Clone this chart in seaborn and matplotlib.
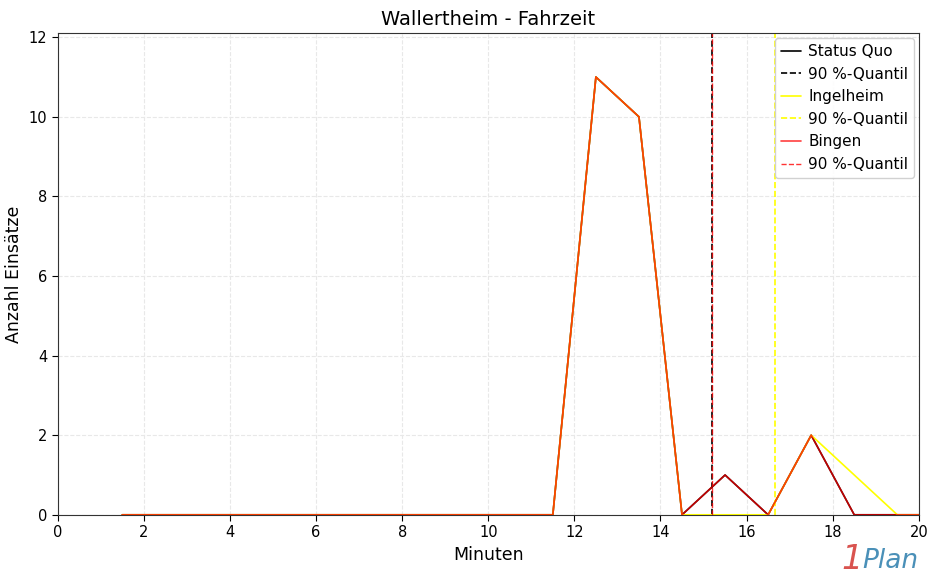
import matplotlib
matplotlib.use('Agg')
import numpy as np
import pandas as pd
import matplotlib.pyplot as plt
import seaborn as sns

minuten = [1.5, 2.5, 3.5, 4.5, 5.5, 6.5, 7.5, 8.5, 9.5, 10.5, 11.5, 12.5, 13.5,
           14.5, 15.5, 16.5, 17.5, 18.5, 19.5, 20.5]
status_quo = [0, 0, 0, 0, 0, 0, 0, 0, 0, 0, 0, 11, 10, 0, 1, 0, 2, 0, 0, 0]
ingelheim = [0, 0, 0, 0, 0, 0, 0, 0, 0, 0, 0, 11, 10, 0, 0, 0, 2, 1, 0, 0]
bingen = [0, 0, 0, 0, 0, 0, 0, 0, 0, 0, 0, 11, 10, 0, 1, 0, 2, 0, 0, 0]
quantile_sq = 15.2
quantile_ing = 16.65
quantile_bin = 15.2

sns.set_style('whitegrid', {'grid.linestyle': '--', 'grid.color': '#e8e8e8',
                            'axes.edgecolor': '#333333', 'text.color': 'black',
                            'axes.labelcolor': 'black', 'xtick.color': 'black',
                            'ytick.color': 'black'})
plt.rcParams['font.family'] = ['DejaVu Sans']

fig, ax = plt.subplots(figsize=(9.3, 5.83), dpi=100)

sns.lineplot(x=minuten, y=status_quo, color='black', linewidth=1.2, label='Status Quo', ax=ax)
ax.axvline(quantile_sq, color='black', linestyle='--', linewidth=1.2, label='90 %-Quantil')
sns.lineplot(x=minuten, y=ingelheim, color='yellow', linewidth=1.2, label='Ingelheim', ax=ax)
ax.axvline(quantile_ing, color='yellow', linestyle='--', linewidth=1.2, label='90 %-Quantil')
sns.lineplot(x=minuten, y=bingen, color='red', alpha=0.75, linewidth=1.2, label='Bingen', ax=ax)
ax.axvline(quantile_bin, color='red', alpha=0.8, linestyle='--', linewidth=1, label='90 %-Quantil')

ax.set_xlim(0, 20)
ax.set_ylim(0, max(status_quo) * 1.1)
ax.set_xticks(range(0, 21, 2))
ax.set_title('Wallertheim - Fahrzeit', fontsize=14)
ax.set_xlabel('Minuten', fontsize=12.5)
ax.set_ylabel('Anzahl Einsätze', fontsize=12.5)
ax.tick_params(axis='both', labelsize=10.5, left=True, bottom=True, length=4)
ax.legend(loc='upper right', fontsize=11, framealpha=0.9, borderaxespad=0.3,
          handlelength=1.3, handletextpad=0.5, labelspacing=0.5, borderpad=0.4)

fig.subplots_adjust(left=0.062, right=0.988, top=0.943, bottom=0.117)

fig.text(0.905, 0.012, '1', color='#d9534f', fontsize=24, style='italic', ha='left', va='bottom')
fig.text(0.927, 0.015, 'Plan', color='#4a90b8', fontsize=19, style='italic', ha='left', va='bottom')

plt.savefig('out.png', dpi=100)
